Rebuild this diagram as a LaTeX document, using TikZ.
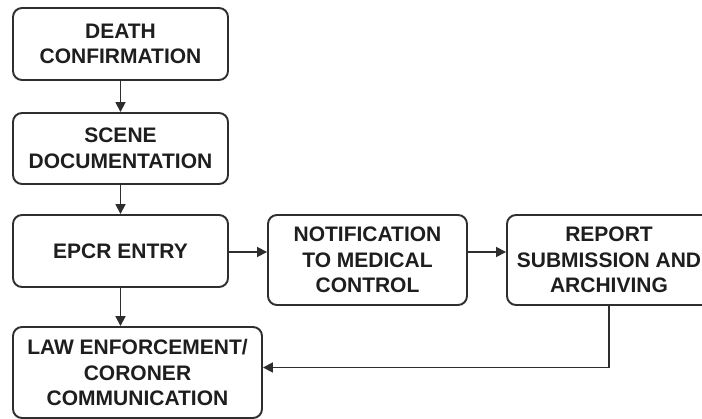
\documentclass[tikz,border=0pt]{standalone}
\usepackage{fontspec}
\setmainfont{Liberation Sans}
\usetikzlibrary{arrows.meta}
\definecolor{ink}{HTML}{1E1E1E}
\definecolor{edge}{HTML}{2E2E2E}
\tikzset{
  box/.style={draw=edge, line width=1.9pt, rounded corners=9pt, fill=white,
    align=center, text=ink, inner sep=0pt,
    font=\fontsize{21}{25.5}\selectfont\bfseries},
  conn/.style={draw=edge, line width=1.7pt, -{Triangle[length=10pt,width=10pt]}}
}
\begin{document}
\begin{tikzpicture}[x=1pt,y=-1pt]
\useasboundingbox (0,0) rectangle (702,419);
\fill[white] (0,0) rectangle (702,419);
\node[box, minimum width=215pt, minimum height=72pt] (death) at (120.5,44) {DEATH\\CONFIRMATION};
\node[box, minimum width=215pt, minimum height=71pt] (scene) at (120.5,148.5) {SCENE\\DOCUMENTATION};
\node[box, minimum width=215pt, minimum height=72pt] (epcr) at (120.5,251) {EPCR ENTRY};
\node[box, minimum width=249pt, minimum height=91pt] (law) at (137.5,372.5) {LAW ENFORCEMENT/\\CORONER\\COMMUNICATION};
\node[box, minimum width=199pt, minimum height=90pt] (notif) at (367.5,260) {NOTIFICATION\\TO MEDICAL\\CONTROL};
\node[box, minimum width=204pt, minimum height=90pt] (report) at (609,260) {REPORT\\SUBMISSION AND\\ARCHIVING};
\draw[conn] (death.south) -- (scene.north);
\draw[conn] (scene.south) -- (epcr.north);
\draw[conn] (epcr.south) -- (epcr.south |- law.north);
\draw[conn] ([yshift=-1pt]epcr.east) -- ([yshift=-1pt]epcr.east -| notif.west);
\draw[conn] ([yshift=8pt]notif.east) -- ([yshift=8pt]notif.east -| report.west);
\draw[conn] (report.south) |- ([yshift=5pt]law.east);
\end{tikzpicture}
\end{document}
